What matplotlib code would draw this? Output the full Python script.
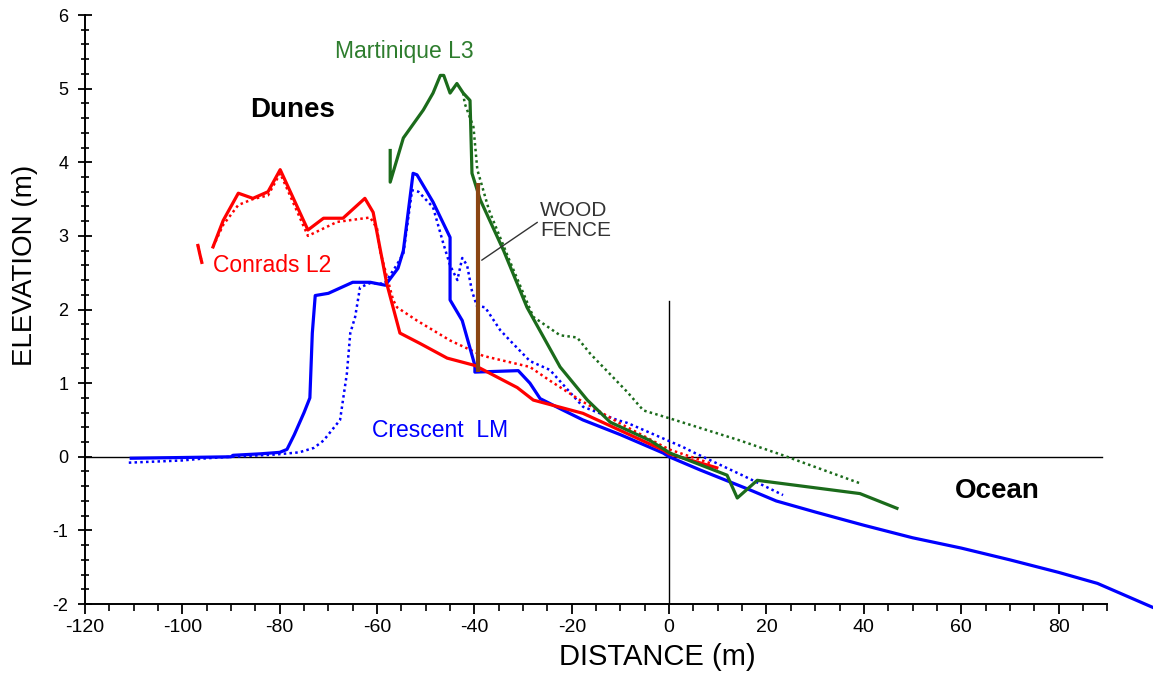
import numpy as np
import matplotlib
matplotlib.use("Agg")
import matplotlib.pyplot as plt
from matplotlib.ticker import FixedLocator, MultipleLocator

plt.rcParams['font.family'] = ['Liberation Sans', 'DejaVu Sans']
plt.rcParams['axes.unicode_minus'] = False

# Beach profiles: distance (m) vs elevation (m); NaN breaks a line
crescent_x = [-110.5, -100, -90, -89.6, -84, -80, -78.5, -77, -75, -73.8, -73.3, -72.7, -70, -65,
              -61.4, -58.3, -55.7, -54.6, -52.6, -51.8, -48.5, -45, -45, -42.5, -39.9, -39.9, -31,
              -28.6, -26.5, -22, -17.7, -10, -1.2, 0, 6.4, 16.6, 22, 30, 40, 50, 60, 70, 80, 88, 99.5]
crescent_y = [-0.02, -0.01, 0.0, 0.02, 0.04, 0.06, 0.1, 0.3, 0.6, 0.8, 1.68, 2.19, 2.22, 2.37,
              2.37, 2.33, 2.56, 2.8, 3.85, 3.83, 3.46, 2.98, 2.13, 1.85, 1.24, 1.15, 1.17,
              1.0, 0.79, 0.64, 0.5, 0.3, 0.05, 0.0, -0.18, -0.45, -0.6, -0.75, -0.93, -1.1, -1.24,
              -1.4, -1.57, -1.72, -2.05]

crescent_old_x = [-111, -100, -95, -90, -81, -76, -73, -71, -67.6, -66.2, -65.5, -64.5, -63.5, -61.4,
                  -58.5, -56, -54.6, -52.8, -51.5, -48.5, -46.4, -45, -43.5, -42.5, -41.5, -40.5,
                  -39.5, -37.8, -34.7, -32.7, -28.6, -24.5, -17.7, -10.7, -8.6, 2.9, 5, 15, 23.4]
crescent_old_y = [-0.08, -0.05, -0.02, 0.0, 0.03, 0.06, 0.12, 0.22, 0.5, 1.13, 1.68, 1.9, 2.3, 2.36,
                  2.35, 2.6, 2.76, 3.62, 3.6, 3.39, 2.9, 2.6, 2.4, 2.7, 2.6, 2.25,
                  2.05, 2.03, 1.72, 1.58, 1.3, 1.18, 0.68, 0.5, 0.46, 0.13, 0.06, -0.25, -0.52]

conrads_x = [-96.8, -96.4, -96.0, np.nan, -93.7, -91.6, -88.5, -85.5, -82.4, -79.9, -74.2, -71, -67,
             -62.5, -60.8, -58, -55.3, -51.2, -45.6, -39.9, -31.2, -27.9, -17.7, -1.2, 0, 9.8]
conrads_y = [2.87, 2.75, 2.64, np.nan, 2.85, 3.21, 3.58, 3.51, 3.6, 3.9, 3.08, 3.24, 3.24,
             3.51, 3.32, 2.35, 1.68, 1.54, 1.34, 1.24, 0.94, 0.77, 0.59, 0.09, 0.04, -0.15]

conrads_old_x = [-96.8, -96.0, np.nan, -93.7, -91.6, -88.5, -85.5, -82.4, -79.9, -74.2, -68.2, -61.4,
                 -60, -59.4, -56.7, -55.9, -51.8, -45, -38.2, -28.6, -24.4, -18.3, -10, 0, 9]
conrads_old_y = [2.87, 2.64, np.nan, 2.85, 3.15, 3.42, 3.5, 3.55, 3.85, 3.0, 3.19, 3.25,
                 3.1, 2.8, 2.13, 2.03, 1.85, 1.58, 1.37, 1.22, 1.03, 0.77, 0.45, 0.1, -0.1]

martinique_x = [-57.3, -57.3, -54.6, -50.5, -48.5, -47, -46.3, -45, -43.6, -42.3, -40.9, -40.5,
                -38.8, -34, -29.2, -22.4, -16.8, -12.1, -3.9, 0.2, 11.9, 14, 18.1, 39.2, 46.8]
martinique_y = [4.16, 3.73, 4.33, 4.71, 4.94, 5.18, 5.18, 4.94, 5.07, 4.94, 4.84, 3.85,
                3.49, 2.8, 2.03, 1.22, 0.77, 0.47, 0.22, 0.05, -0.25, -0.56, -0.32, -0.5, -0.7]

martinique_old_x = [-42.3, -42, -40.2, -39.4, -37, -33, -27.9, -22.4, -18.9, -16.2, -8.6, -5.3,
                    0.2, 14.6, 23.4, 39.2]
martinique_old_y = [4.94, 4.8, 4.48, 3.9, 3.35, 2.7, 1.9, 1.65, 1.62, 1.4, 0.88, 0.63,
                    0.52, 0.22, 0.02, -0.36]

fence_x = [-39.2, -39.2]
fence_y = [1.15, 3.72]

RED = '#FF0000'
BLUE = '#0000FF'
GREEN = '#1B6B1B'
BROWN = '#8B4513'

fig = plt.figure(figsize=(11.53, 6.77), dpi=100)
ax = fig.add_axes([0.0737, 0.1078, 0.9263, 0.870])

dot = (0, (1, 1.3))
ax.plot(crescent_old_x, crescent_old_y, color=BLUE, lw=1.8, ls=dot, zorder=3)
ax.plot(conrads_old_x, conrads_old_y, color=RED, lw=1.8, ls=dot, zorder=3)
ax.plot(martinique_old_x, martinique_old_y, color=GREEN, lw=1.8, ls=dot, zorder=3)

ax.plot(crescent_x, crescent_y, color=BLUE, lw=2.3, zorder=4, clip_on=False)
ax.plot(conrads_x, conrads_y, color=RED, lw=2.3, zorder=5)
ax.plot(martinique_x, martinique_y, color=GREEN, lw=2.3, zorder=6)
ax.plot(fence_x, fence_y, color=BROWN, lw=3.0, zorder=7, solid_capstyle='butt')

# reference axes through the origin
ax.plot([-120, 89], [0, 0], color='black', lw=1.0, zorder=2)
ax.plot([0, 0], [-2, 2.12], color='black', lw=1.0, zorder=2)

ax.set_xlim(-120, 99.4)
ax.set_ylim(-2, 6)

for side in ('top', 'right'):
    ax.spines[side].set_visible(False)
ax.spines['bottom'].set_bounds(-120, 90)
ax.spines['bottom'].set_linewidth(1.4)
ax.spines['left'].set_linewidth(1.4)

ax.xaxis.set_major_locator(FixedLocator(np.arange(-120, 81, 20)))
ax.xaxis.set_minor_locator(FixedLocator(np.arange(-120, 91, 5)))
ax.yaxis.set_major_locator(MultipleLocator(1))
ax.yaxis.set_minor_locator(MultipleLocator(0.2))
ax.tick_params(axis='x', which='major', direction='out', length=7, width=1.3, pad=4)
ax.tick_params(axis='x', which='minor', direction='out', length=5, width=1.2)
ax.tick_params(axis='y', which='major', direction='inout', length=10, width=1.3, pad=7)
ax.tick_params(axis='y', which='minor', direction='inout', length=6, width=1.2)

for lab in ax.get_xticklabels():
    lab.set_fontsize(14)
    lab.set_family(['Liberation Sans Narrow', 'Liberation Sans'])
for lab in ax.get_yticklabels():
    lab.set_fontsize(13)

ax.set_xlabel('DISTANCE (m)', fontsize=21, va='center')
ax.xaxis.set_label_coords(0.5356, -0.09)
ax.set_ylabel('ELEVATION (m)', fontsize=20, va='center', ha='center')
ax.yaxis.set_label_coords(-0.056, 0.5755)

ax.text(-68.6, 5.5, 'Martinique L3', color='#2E7D2E', fontsize=16.5, va='center', ha='left')
ax.text(-86.1, 4.71, 'Dunes', color='black', fontsize=20, fontweight='bold', va='center', ha='left')
ax.text(-93.7, 2.6, 'Conrads L2', color=RED, fontsize=16.5, va='center', ha='left')
ax.text(-61, 0.36, 'Crescent  LM', color=BLUE, fontsize=16.5, va='center', ha='left')
ax.text(58.8, -0.46, 'Ocean', color='black', fontsize=20, fontweight='bold', va='center', ha='left')

ax.annotate('WOOD\nFENCE', xy=(-38.5, 2.67), xytext=(-26.5, 3.21), fontsize=15,
            color='#333333', va='center', ha='left', linespacing=1.1,
            arrowprops=dict(arrowstyle='-', color='#333333', lw=1.0, shrinkA=0, shrinkB=0,
                            relpos=(0, 0.5)),
            zorder=8)

fig.savefig('out.png', dpi=100, facecolor='white')
